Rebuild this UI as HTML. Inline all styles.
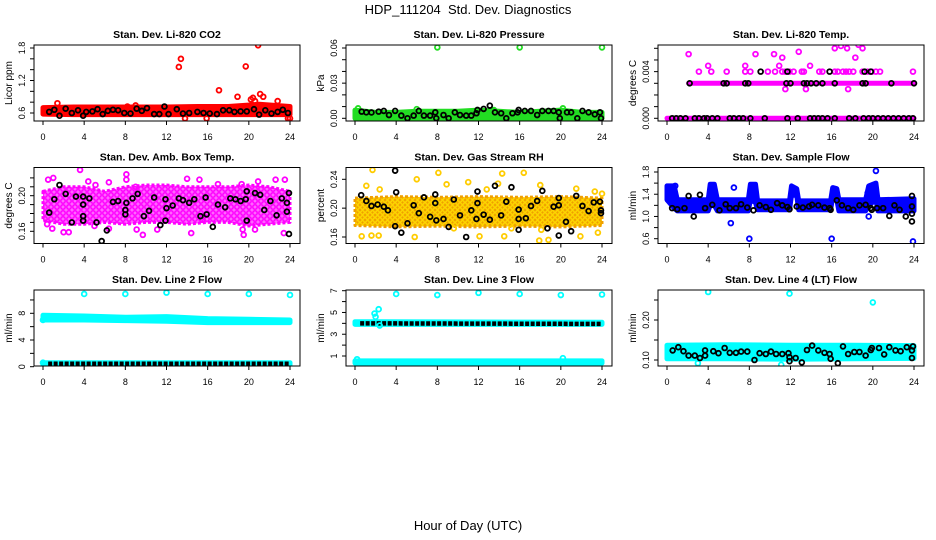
<!DOCTYPE html>
<html><head><meta charset="utf-8"><style>
html,body{margin:0;padding:0;background:#fff;}
svg{display:block;font-family:"Liberation Sans",sans-serif;}
</style></head><body>
<svg id="chart" width="936" height="540" viewBox="0 0 936 540">
<defs>
<pattern id="patAmb" width="6" height="6" patternUnits="userSpaceOnUse"><rect width="6" height="6" fill="#ff66ff"/><circle cx="3" cy="3" r="2.2" fill="none" stroke="#ff00ff" stroke-width="1.5"/></pattern>
<pattern id="patRh" width="5" height="5" patternUnits="userSpaceOnUse"><rect width="5" height="5" fill="#f0a000"/><circle cx="2.5" cy="2.5" r="1.8" fill="none" stroke="#ffe000" stroke-width="1.2"/></pattern>
</defs>
<text x="468" y="14" text-anchor="middle" font-size="13">HDP_111204&#160; Std. Dev. Diagnostics</text>
<text x="468" y="530" text-anchor="middle" font-size="13">Hour of Day (UTC)</text>
</svg>
<script>
const xTicks=[0,4,8,12,16,20,24];
// Panel 1 CO2
const co2BandH=[0,3,6,9,12,15,18,21,24];
const co2BandLo=[0.58,0.57,0.57,0.57,0.57,0.57,0.57,0.57,0.57];
const co2BandHi=[0.7,0.71,0.71,0.71,0.71,0.72,0.72,0.76,0.72];
const co2PtsH=[1.4,13.2,13.4,13.8,17.1,18.9,19.7,20.2,20.4,20.6,20.9,21.1,21.4,22.8,23.8,24,15.9,8.2,9];
const co2PtsV=[0.78,1.45,1.6,0.5,1.02,0.9,1.46,0.85,0.88,0.82,1.85,0.95,0.9,0.82,0.5,0.5,0.5,0.72,0.74];
const co2BlkH=[0.6,1.1,1.6,2.2,2.8,3.4,3.9,4.2,4.8,5.3,5.8,6.3,6.8,7.3,7.9,8.5,9.1,9.6,10.1,10.8,11.3,11.8,12.2,13,13.6,14.2,15,15.6,16.2,16.9,17.5,18.1,18.6,19.2,19.8,20.5,21,21.6,22.2,22.8,23.3,23.8];
const co2BlkV=[0.62,0.66,0.55,0.68,0.6,0.65,0.55,0.62,0.63,0.67,0.58,0.64,0.66,0.65,0.6,0.59,0.68,0.64,0.69,0.58,0.58,0.72,0.58,0.67,0.59,0.6,0.62,0.6,0.59,0.58,0.65,0.65,0.62,0.63,0.63,0.67,0.57,0.65,0.59,0.62,0.66,0.6];
// Panel 2 Pressure
const presBandH=[0,2,4,6,8,10,12,14,16,18,20,22,24];
const presBandLo=[0,0,0,0,0,0,0,0,0,0,0,0,0];
const presBandHi=[0.007,0.005,0.005,0.006,0.006,0.006,0.007,0.006,0.005,0.006,0.007,0.005,0.005];
const presPtsH=[8,16,24,0.3,20.2,13.5,6];
const presPtsV=[0.0605,0.0605,0.0605,0.0085,0.0085,0.007,0.0078];
const presBlkH=[0.65,1.1,1.6,2.3,2.8,3.3,3.9,4.5,5.1,5.7,6.2,6.7,7.3,7.8,7.9,8.6,9.1,9.7,10.2,10.8,11.3,11.8,11.9,12.5,13.1,13.6,14.2,14.7,15.3,15.8,15.9,16.5,17.1,17.7,18.2,18.8,19.3,19.8,19.9,20.6,21,21.6,22.1,22.7,23.3,23.8,23.9];
const presBlkV=[0.0057,0.0051,0.005,0.0057,0.0063,0.0028,0.0063,0.0023,0,0.0023,0.0063,0.0023,0.0023,0.0051,0,0.0028,0,0.0051,0.0028,0.0023,0.0023,0.0043,0.0071,0.008,0.0108,0.0051,0.0043,0,0.0043,0.0051,0.0071,0.0063,0.0063,0.0028,0.0063,0.0063,0.0063,0.0051,0,0.0051,0.0051,0,0.0063,0.0051,0.0034,0.0051,0];
// Panel 3 Temp
const tempBandH=[0,24];
const tempBandLo=[0,0];
const tempBandHi=[0,0];
const tempBand2H=[2.1,24];
const tempBand2Lo=[0.003,0.003];
const tempBand2Hi=[0.003,0.003];
const tempPtsH=[3.1,4.3,5.8,7.6,8.1,9.8,10.5,11.2,11.5,11.9,12.3,13.1,13.3,14.8,15.1,16.3,16.6,17.1,17.4,17.7,18.1,19,19.5,19.9,20.3,20.7,23.9,2.1,8.6,12.8,16.3,16.9,17,17.5,18.6,19,19.6,18.3,20.3,11.2,10.4,7.6,10.9,13.9,13.5,17.6,11.5,4];
const tempPtsV=[0.004,0.004,0.004,0.004,0.004,0.004,0.004,0.004,0.004,0.004,0.004,0.004,0.004,0.004,0.004,0.004,0.004,0.004,0.004,0.004,0.004,0.004,0.004,0.004,0.004,0.004,0.004,0.0055,0.0055,0.0057,0.006,0.0062,0.0067,0.006,0.0063,0.006,0.0067,0.0052,0.0067,0.0052,0.0055,0.0045,0.0045,0.0045,0.0025,0.0025,0.0025,0.0045];
const tempBlkH=[0.5,0.9,1.3,1.8,2.7,3.1,3.6,3.9,4.4,4.9,6.1,6.5,7,7.4,8.1,9.5,11.7,12.7,13.9,14.3,14.7,15.1,15.6,16.3,17.7,18.3,19.1,19.6,20,20.5,21,21.5,22,22.5,23,23.5,23.9,2.2,5.5,5.8,7.6,7.9,11.6,12,13.3,13.6,14,14.5,15.1,16.3,19,19.3,21.8,24,9.1,11.7,15.8,19.2,19.8];
const tempBlkV=[0,0,0,0,0,0,0,0,0,0,0,0,0,0,0,0,0,0,0,0,0,0,0,0,0,0,0,0,0,0,0,0,0,0,0,0,0,0.003,0.003,0.003,0.003,0.003,0.003,0.003,0.003,0.003,0.003,0.003,0.003,0.003,0.003,0.003,0.003,0.003,0.004,0.004,0.004,0.004,0.004];
// Panel 4 Amb box
const ambBandH=[0,2,4,6,8,10,12,14,16,18,20,22,24];
const ambBandLo=[0.172,0.168,0.168,0.17,0.168,0.17,0.17,0.168,0.17,0.17,0.166,0.168,0.17];
const ambBandHi=[0.205,0.21,0.21,0.205,0.21,0.212,0.212,0.21,0.21,0.21,0.212,0.21,0.205];
const ambPtsH=[3.6,0.5,1,4.4,5.1,6.4,8.1,8.1,9,14,15.2,17,19.3,20.9,22.6,23.5,0.4,0.9,2,2.5,5,6.4,9.1,9.7,11.1,14.4,15.5,19.5,20.6,23.4,19.4];
const ambPtsV=[0.229,0.218,0.22,0.216,0.212,0.215,0.224,0.218,0.21,0.219,0.218,0.213,0.213,0.216,0.218,0.218,0.168,0.163,0.159,0.159,0.166,0.163,0.162,0.156,0.162,0.158,0.173,0.156,0.162,0.158,0.162];
const ambBlkH=[0.6,1.1,1.6,2.2,2.8,3.2,3.9,3.9,3.9,3.9,4.5,5.2,5.7,6.2,6.8,7.3,8,8,8.1,8.7,9.2,9.8,10.3,10.8,11.4,11.9,12,11.9,12.6,13.2,13.6,14.2,14.7,15.3,15.8,15.9,16.5,17,17.7,18.2,18.7,19.2,19.7,19.8,19.8,20.6,21.1,21.5,22.1,22.7,23.2,23.7,23.7,23.9,23.9];
const ambBlkV=[0.181,0.196,0.212,0.202,0.17,0.199,0.199,0.19,0.177,0.172,0.197,0.17,0.149,0.161,0.193,0.194,0.184,0.179,0.192,0.197,0.202,0.177,0.183,0.198,0.167,0.196,0.186,0.172,0.189,0.197,0.195,0.192,0.196,0.177,0.198,0.179,0.165,0.19,0.187,0.197,0.196,0.194,0.196,0.205,0.172,0.203,0.201,0.184,0.194,0.178,0.197,0.192,0.182,0.203,0.157];
// Panel 5 RH
const rhBandH=[0,4,8,12,16,20,24];
const rhBandLo=[0.176,0.174,0.175,0.174,0.175,0.174,0.176];
const rhBandHi=[0.214,0.216,0.215,0.216,0.215,0.216,0.214];
const rhPtsH=[1.7,1.1,8.1,6,11,14.3,16.4,18,0.65,1.6,2.3,5.8,12.1,14.5,17.9,18.8,21.9,23.6,24,23.3,2.4,8.9,12.8,13.9,21.5,9.6,15.2,18.1];
const rhPtsV=[0.253,0.231,0.249,0.24,0.236,0.248,0.249,0.232,0.161,0.162,0.162,0.16,0.161,0.161,0.155,0.156,0.161,0.166,0.22,0.223,0.226,0.233,0.226,0.234,0.227,0.172,0.172,0.17];
const rhBlkH=[0.6,1.1,1.6,2.2,2.8,3.2,3.9,4,3.9,4.5,5.1,5.7,6.2,6.7,7.3,7.8,7.8,7.9,8.6,9.1,9.6,10.2,10.8,11.3,11.8,11.9,11.9,12.5,13.1,13.6,14.2,14.7,15.2,15.9,15.9,15.9,16.6,17.1,17.7,18.2,18.7,19.3,19.8,19.8,19.8,20.5,21,21.5,22.1,22.7,23.2,23.8,23.9,23.9];
const rhBlkV=[0.218,0.21,0.203,0.205,0.202,0.197,0.252,0.222,0.175,0.166,0.179,0.204,0.193,0.215,0.188,0.219,0.207,0.183,0.185,0.174,0.212,0.19,0.16,0.197,0.185,0.223,0.207,0.191,0.184,0.231,0.19,0.209,0.229,0.198,0.185,0.17,0.186,0.203,0.21,0.224,0.172,0.202,0.214,0.204,0.162,0.181,0.168,0.217,0.203,0.196,0.208,0.209,0.197,0.193];
// Panel 6 Sample flow
const flowBandH=[0,0.7,1.0,4.0,4.2,4.6,4.9,7.9,8.1,8.6,8.8,11.9,12.1,12.6,12.8,15.9,16.1,16.5,16.7,19.3,19.6,20.3,20.5,24];
const flowBandLo=[1.3,1.15,1.1,1.1,1.2,1.2,1.1,1.1,1.3,1.25,1.12,1.12,1.38,1.38,1.12,1.12,1.35,1.3,1.1,1.1,1.2,1.3,1.1,1.1];
const flowBandHi=[1.55,1.55,1.3,1.3,1.58,1.58,1.3,1.3,1.58,1.58,1.28,1.28,1.55,1.5,1.28,1.28,1.52,1.5,1.3,1.3,1.55,1.6,1.3,1.32];
const flowPtsH=[0.8,6.5,6.2,8,16,20.3,19.6,23.9,19.5];
const flowPtsV=[1.55,1.52,0.88,0.6,0.6,1.82,1.0,0.55,1.42];
const flowBlkH=[0.5,1,1.7,2.1,2.6,3.2,3.7,4.4,5.1,5.7,6.1,6.7,7.2,7.8,8.4,9,9.6,10.1,10.7,11.2,11.7,11.9,12.6,13.2,13.8,14.1,14.7,15.3,15.8,15.9,16.5,17,17.6,18.1,18.7,19.3,19.8,19.9,20.4,21,21.6,22.1,22.6,23.2,23.8,23.8,23.8,23.8];
const flowBlkV=[1.15,1.13,1.15,1.37,1.0,1.39,1.15,1.21,1.11,1.22,1.15,1.15,1.22,1.16,1.11,1.2,1.17,1.12,1.24,1.2,1.17,1.13,1.18,1.16,1.18,1.21,1.2,1.16,1.15,1.12,1.29,1.2,1.15,1.12,1.2,1.21,1.15,1.12,1.15,1.15,1.01,1.2,1.12,1.0,1.37,1.18,1.05,0.91];
// Panel 7 Line 2
const l2BandH=[0,4,8,12,16,20,24];
const l2BandLo=[7.0,7.0,6.9,6.8,6.6,6.6,6.6];
const l2BandHi=[7.7,7.6,7.4,7.5,7.2,7.1,7.0];
const l2Band2H=[0,24];
const l2Band2Lo=[0.3,0.3];
const l2Band2Hi=[0.6,0.6];
const l2PtsH=[4,8,12,16,20,24,0,0];
const l2PtsV=[10.9,10.9,11.1,10.9,10.9,10.75,7.0,0.6];
const l2BlkH=[0.5,24];
const l2BlkV=[0.45,0.45];
// Panel 8 Line 3
const l3BandH=[0,24];
const l3BandLo=[3.9,3.9];
const l3BandHi=[4.15,4.1];
const l3Band2H=[0,24];
const l3Band2Lo=[0.35,0.35];
const l3Band2Hi=[0.55,0.55];
const l3PtsH=[4,8,12,16,20,24,0.2,20.2,1.9,2.3,2.0,2.4];
const l3PtsV=[6.7,6.6,6.8,6.7,6.6,6.65,0.7,0.8,4.9,5.3,4.6,3.8];
const l3BlkH=[0.5,24];
const l3BlkV=[4.0,3.95];
// Panel 9 Line 4
const l4BandH=[0,6,12,18,24];
const l4BandLo=[0.103,0.103,0.102,0.103,0.104];
const l4BandHi=[0.137,0.138,0.137,0.137,0.136];
const l4PtsH=[4,11.9,20,3,11.1];
const l4PtsV=[0.27,0.266,0.244,0.092,0.088];
const l4BlkH=[0.55,1.1,1.6,2.1,2.7,3.2,3.7,3.7,4.5,5,5.6,6.1,6.7,7.2,7.8,8.5,9,9.6,10.1,10.6,11.2,11.8,11.9,11.9,12.5,13.1,13.6,14.1,14.7,15.3,15.8,15.9,16.6,17.1,17.6,18.2,18.7,19.3,19.8,19.9,20.6,21.1,21.6,22.2,22.7,23.3,23.8,23.8,23.9];
const l4BlkV=[0.124,0.132,0.122,0.111,0.111,0.105,0.111,0.124,0.122,0.117,0.13,0.118,0.118,0.121,0.121,0.1,0.117,0.115,0.121,0.115,0.115,0.117,0.107,0.097,0.105,0.094,0.125,0.136,0.124,0.118,0.115,0.103,0.092,0.134,0.115,0.12,0.12,0.111,0.125,0.13,0.13,0.114,0.132,0.124,0.122,0.132,0.124,0.105,0.134];

const NS='http://www.w3.org/2000/svg';
const svg=document.getElementById('chart');
function el(tag,attrs,parent){const e=document.createElementNS(NS,tag);for(const k in attrs)e.setAttribute(k,attrs[k]);(parent||svg).appendChild(e);return e;}

const colX=[34,346,658], rowY=[45,167.5,290], boxW=266, boxH=76;
const panels=[
 {key:'co2',title:'Stan. Dev. Li-820 CO2',ylab:'Licor ppm',c:0,r:0,a:1.8,apx:48,b:0.6,bpx:113,ticks:[0.6,0.8,1,1.2,1.4,1.6,1.8],labels:[0.6,1.2,1.8],fmt:1,color:'#ff0000',bands:[[co2BandH,co2BandLo,co2BandHi]],pts:[co2PtsH,co2PtsV],blk:[co2BlkH,co2BlkV]},
 {key:'pressure',title:'Stan. Dev. Li-820 Pressure',ylab:'kPa',c:1,r:0,a:0.06,apx:48,b:0,bpx:118.3,ticks:[0,0.01,0.02,0.03,0.04,0.05,0.06],labels:[0,0.03,0.06],fmt:2,color:'#22dd22',bands:[[presBandH,presBandLo,presBandHi]],pts:[presPtsH,presPtsV],blk:[presBlkH,presBlkV]},
 {key:'temp',title:'Stan. Dev. Li-820 Temp.',ylab:'degrees C',c:2,r:0,a:0.006,apx:48.3,b:0,bpx:118.3,ticks:[0,0.001,0.002,0.003,0.004,0.005,0.006],labels:[0,0.004],fmt:3,color:'#ff00ff',bands:[[tempBandH,tempBandLo,tempBandHi],[tempBand2H,tempBand2Lo,tempBand2Hi]],pts:[tempPtsH,tempPtsV],blk:[tempBlkH,tempBlkV]},
 {key:'ambbox',title:'Stan. Dev. Amb. Box Temp.',ylab:'degrees C',c:0,r:1,a:0.2,apx:195.7,b:0.16,bpx:231.3,ticks:[0.16,0.17,0.18,0.19,0.2,0.21,0.22],labels:[0.16,0.2],fmt:2,color:'#ff00ff',pat:'url(#patAmb)',bands:[[ambBandH,ambBandLo,ambBandHi]],pts:[ambPtsH,ambPtsV],blk:[ambBlkH,ambBlkV]},
 {key:'rh',title:'Stan. Dev. Gas Stream RH',ylab:'percent',c:1,r:1,a:0.24,apx:179.3,b:0.16,bpx:237,ticks:[0.16,0.2,0.24],labels:[0.16,0.2,0.24],fmt:2,color:'#f0a000',ptColor:'#ffcc00',pat:'url(#patRh)',bands:[[rhBandH,rhBandLo,rhBandHi]],pts:[rhPtsH,rhPtsV],blk:[rhBlkH,rhBlkV]},
 {key:'sampleflow',title:'Stan. Dev. Sample Flow',ylab:'ml/min',c:2,r:1,a:1.8,apx:172,b:0.6,bpx:238.7,ticks:[0.6,0.8,1,1.2,1.4,1.6,1.8],labels:[0.6,1,1.4,1.8],fmt:1,color:'#0000ff',bands:[[flowBandH,flowBandLo,flowBandHi]],pts:[flowPtsH,flowPtsV],blk:[flowBlkH,flowBlkV]},
 {key:'line2',title:'Stan. Dev. Line 2 Flow',ylab:'ml/min',c:0,r:2,a:8,apx:313.3,b:0,bpx:366.7,ticks:[0,2,4,6,8,10],labels:[0,4,8],fmt:0,color:'#00ffff',bands:[[l2BandH,l2BandLo,l2BandHi],[l2Band2H,l2Band2Lo,l2Band2Hi]],pts:[l2PtsH,l2PtsV],blkLine:[l2BlkH,l2BlkV]},
 {key:'line3',title:'Stan. Dev. Line 3 Flow',ylab:'ml/min',c:1,r:2,a:7,apx:290.7,b:1,bpx:356,ticks:[1,2,3,4,5,6,7],labels:[1,3,5,7],fmt:0,color:'#00ffff',bands:[[l3BandH,l3BandLo,l3BandHi],[l3Band2H,l3Band2Lo,l3Band2Hi]],pts:[l3PtsH,l3PtsV],blkLine:[l3BlkH,l3BlkV]},
 {key:'line4',title:'Stan. Dev. Line 4 (LT) Flow',ylab:'ml/min',c:2,r:2,a:0.2,apx:320,b:0.1,bpx:360,ticks:[0.1,0.15,0.2,0.25],labels:[0.1,0.2],fmt:2,color:'#00ffff',bands:[[l4BandH,l4BandLo,l4BandHi]],pts:[l4PtsH,l4PtsV],blk:[l4BlkH,l4BlkV]}
];

panels.forEach((p,i)=>{
 const L=colX[p.c], T=rowY[p.r], B=T+boxH, R=L+boxW;
 const x0=L+9, x1=L+256;
 const xs=h=>x0+(h/24)*(x1-x0);
 const ys=v=>p.bpx+(v-p.b)*(p.apx-p.bpx)/(p.a-p.b);
 const g=el('g',{});
 
 
 const cp=el('clipPath',{id:'cp'+i},g);
 el('rect',{x:L,y:T,width:boxW,height:boxH},cp);
 const t=el('text',{x:(L+R)/2,y:T-7,'text-anchor':'middle','font-size':'10.5','font-weight':'bold'},g);
 t.textContent=p.title;
 
 
 const yl=el('text',{transform:`translate(${L-22},${(T+B)/2}) rotate(-90)`,'text-anchor':'middle','font-size':'10'},g);
 yl.textContent=p.ylab;
 
 
 const data=el('g',{'clip-path':`url(#cp${i})`},g);
 
 
 p.bands.forEach(([H,lo,hi])=>{
   let d='';
   H.forEach((h,k)=>{d+=(k?'L':'M')+xs(h).toFixed(1)+','+ys(hi[k]).toFixed(1);});
   for(let k=H.length-1;k>=0;k--)d+='L'+xs(H[k]).toFixed(1)+','+ys(lo[k]).toFixed(1);
   d+='Z';
   const b=el('path',{d:d,fill:p.pat||p.color,stroke:p.color,'stroke-width':p.pat?3:5,'stroke-linejoin':'round','stroke-dasharray':p.pat?'3 2':'none'},data);
   
   
 });
 if(p.blkLine){
   const [H,V]=p.blkLine;
   let d='';H.forEach((h,k)=>{d+=(k?'L':'M')+xs(h)+','+ys(V[k]);});
   const bl=el('path',{d:d,fill:'none',stroke:'#000','stroke-width':4.5,'stroke-dasharray':'4 1.5'},data);
   
   
 }
 const [PH,PV]=p.pts;
 PH.forEach((h,k)=>{
   const c=el('circle',{cx:xs(h),cy:ys(PV[k]),r:2.4,fill:'none',stroke:p.ptColor||p.color,'stroke-width':1.8},data);
   
   
 });
 if(p.blk){
   const [BH,BV]=p.blk;
   BH.forEach((h,k)=>{
     const c=el('circle',{cx:xs(h),cy:ys(BV[k]),r:2.4,fill:'none',stroke:'#000','stroke-width':1.8},data);
     
     
   });
 }
 const box=el('rect',{x:L,y:T,width:boxW,height:boxH,fill:'none',stroke:'#000','stroke-width':1},g);
 
 
 const xa=el('g',{},g);
 
 
 el('line',{x1:xs(0),x2:xs(24),y1:B,y2:B,stroke:'#000'},xa);
 xTicks.forEach(v=>{
   el('line',{x1:xs(v),x2:xs(v),y1:B,y2:B+4,stroke:'#000'},xa);
   const tx=el('text',{x:xs(v),y:B+19,'text-anchor':'middle','font-size':'9'},xa);
   tx.textContent=v;
 });
 const ya=el('g',{},g);
 
 
 p.ticks.forEach(v=>{el('line',{x1:L-4,x2:L,y1:ys(v),y2:ys(v),stroke:'#000'},ya);});
 p.labels.forEach(v=>{
   const ty=el('text',{transform:`translate(${L-9},${ys(v)}) rotate(-90)`,'text-anchor':'middle','font-size':'9'},ya);
   ty.textContent=v.toFixed(p.fmt);
 });
});
</script>
</body></html>
